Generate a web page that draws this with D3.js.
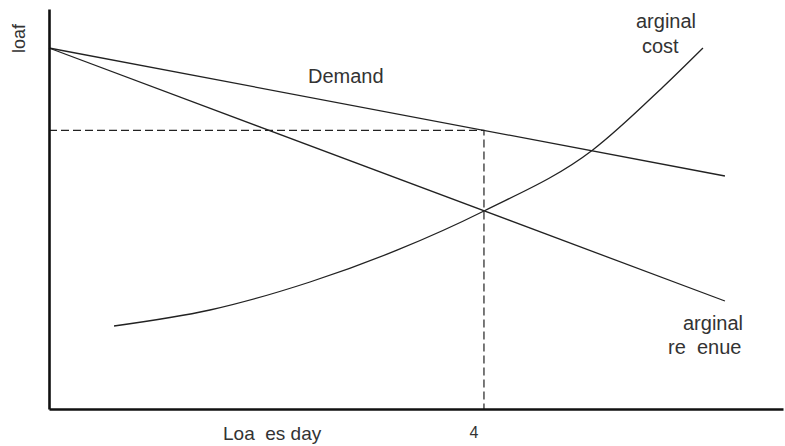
<!DOCTYPE html>
<html>
<head>
<meta charset="utf-8">
<script src="https://cdn.jsdelivr.net/npm/d3@7"></script>
<style>
 body { margin: 0; background: #fff; }
 svg text { font-family: "Liberation Sans", Arial, sans-serif; fill: #333; }
</style>
</head>
<body>
<svg width="785" height="446"></svg>
<script>
// Curve data (quantity, price).

var demandQ = [0, 6.216];
var demandP = [9.025, 5.825];

var mrQ = [0, 6.216];
var mrP = [9.025, 2.7];

var mcQ = [0.598, 1.48, 2.40, 3.2, 4.0, 5.0, 5.646, 6.014];
var mcP = [2.075, 2.475, 3.175, 3.97, 4.95, 6.475, 8.05, 9.025];

var optQ = 4;
var optP = 6.966;
var tickLabels = ['4'];

var svg = d3.select('svg');

// Scales.

var x = d3.scaleLinear().domain([0, 6.75]).range([49, 783]);
var y = d3.scaleLinear().domain([0, 10]).range([409, 9]);

function pts(qs, ps) { return qs.map(function(q, i) { return [q, ps[i]]; }); }

var line = d3.line()
 .x(function(d) { return x(d[0]); })
 .y(function(d) { return y(d[1]); });

// Dashed guide lines.

svg.append('path')
 .attr('d', line([[0, optP], [optQ, optP], [optQ, 0]]))
 .attr('fill', 'none')
 .attr('stroke', '#222')
 .attr('stroke-width', 1.2)
 .attr('stroke-dasharray', '8,4');

// Demand, marginal revenue, marginal cost.

svg.append('path')
 .attr('d', line(pts(demandQ, demandP)))
 .attr('fill', 'none').attr('stroke', '#222').attr('stroke-width', 1.3);

svg.append('path')
 .attr('d', line(pts(mrQ, mrP)))
 .attr('fill', 'none').attr('stroke', '#222').attr('stroke-width', 1.3);

svg.append('path')
 .attr('d', line.curve(d3.curveMonotoneX)(pts(mcQ, mcP)))
 .attr('fill', 'none').attr('stroke', '#222').attr('stroke-width', 1.3);

// Axes, no ticks, just the lines.

svg.append('g')
 .attr('transform', 'translate(0,' + y(0) + ')')
 .call(d3.axisBottom(x).tickValues([]).tickSizeOuter(0))
 .call(function(g) { g.select('.domain').attr('stroke', '#111').attr('stroke-width', 2.6); });

svg.append('g')
 .attr('transform', 'translate(' + x(0) + ',0)')
 .call(d3.axisLeft(y).tickValues([]).tickSizeOuter(0))
 .call(function(g) { g.select('.domain').attr('stroke', '#111').attr('stroke-width', 2.6); });

// Labels.

svg.append('text').attr('x', 636).attr('y', 28).attr('font-size', 20).text('arginal');
svg.append('text').attr('x', 642).attr('y', 53).attr('font-size', 20).text('cost');
svg.append('text').attr('x', 308).attr('y', 83).attr('font-size', 20).text('Demand');
svg.append('text').attr('x', 683).attr('y', 330).attr('font-size', 20).text('arginal');
svg.append('text').attr('x', 668).attr('y', 354).attr('font-size', 20).style('white-space', 'pre').text('re  enue');
svg.append('text').attr('x', 223).attr('y', 440).attr('font-size', 19).style('white-space', 'pre').text('Loa  es day');
svg.append('text').attr('x', x(optQ) - 10).attr('y', 438).attr('font-size', 16).attr('text-anchor', 'middle').text(tickLabels[0]);
svg.append('text')
 .attr('transform', 'translate(25,53) rotate(-90)')
 .attr('font-size', 18)
 .text('loaf');
</script>
</body>
</html>
